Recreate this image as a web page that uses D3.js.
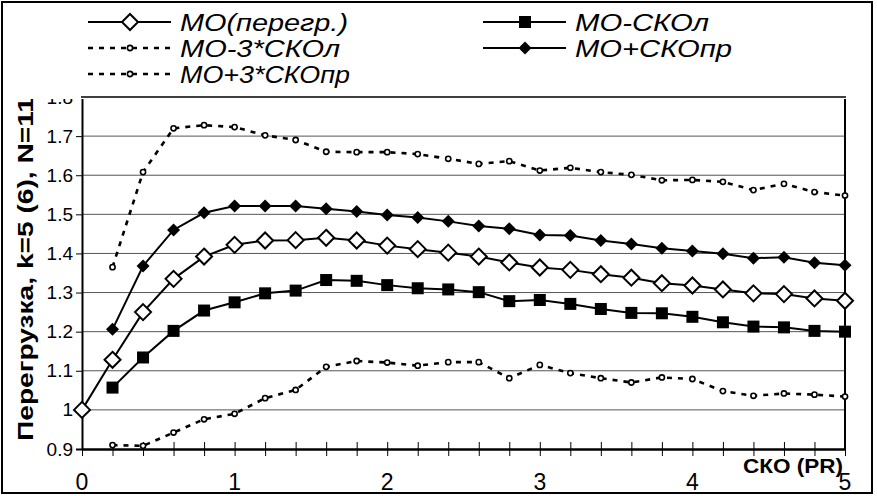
<!DOCTYPE html>
<html>
<head>
<meta charset="utf-8">
<script src="https://cdn.jsdelivr.net/npm/d3@7"></script>
<style>
  body { margin: 0; background: #fff; }
  text { font-family: "Liberation Sans", Arial, sans-serif; }
</style>
</head>
<body>
<div id="chart"></div>
<script>
// x values (СКО), step 0.2
const xAll = [0, 0.2, 0.4, 0.6, 0.8, 1, 1.2, 1.4, 1.6, 1.8, 2, 2.2, 2.4, 2.6, 2.8, 3, 3.2, 3.4, 3.6, 3.8, 4, 4.2, 4.4, 4.6, 4.8, 5];
const xFrom02 = xAll.slice(1);

const moVals = [1.000, 1.128, 1.250, 1.335, 1.392, 1.422, 1.433, 1.434, 1.440, 1.433, 1.420, 1.411, 1.402, 1.392, 1.377, 1.364, 1.358, 1.347, 1.338, 1.324, 1.318, 1.308, 1.298, 1.296, 1.285, 1.279];
const moMinusSko = [1.057, 1.134, 1.202, 1.254, 1.275, 1.298, 1.305, 1.332, 1.330, 1.319, 1.311, 1.308, 1.301, 1.278, 1.281, 1.271, 1.258, 1.248, 1.247, 1.238, 1.224, 1.213, 1.211, 1.202, 1.200];
const moPlusSko = [1.206, 1.368, 1.460, 1.504, 1.521, 1.521, 1.521, 1.514, 1.507, 1.498, 1.492, 1.482, 1.470, 1.463, 1.447, 1.446, 1.433, 1.424, 1.413, 1.406, 1.399, 1.388, 1.390, 1.376, 1.370];
const moMinus3 = [0.910, 0.908, 0.942, 0.976, 0.990, 1.030, 1.051, 1.110, 1.125, 1.121, 1.113, 1.122, 1.122, 1.081, 1.115, 1.094, 1.081, 1.070, 1.083, 1.079, 1.048, 1.036, 1.042, 1.039, 1.034];
const moPlus3 = [1.365, 1.608, 1.720, 1.728, 1.723, 1.702, 1.690, 1.660, 1.659, 1.659, 1.654, 1.642, 1.629, 1.636, 1.612, 1.619, 1.608, 1.601, 1.587, 1.588, 1.583, 1.562, 1.578, 1.557, 1.548];

const yTicks = [0.9, 1, 1.1, 1.2, 1.3, 1.4, 1.5, 1.6, 1.7, 1.8];
const xLabels = [0, 1, 2, 3, 4, 5];

const W = 877, H = 496;
const plot = { left: 82, right: 845, top: 97, bottom: 449 };

const svg = d3.select('#chart').append('svg')
    .attr('width', W).attr('height', H);

svg.append('rect').attr('width', W).attr('height', H).attr('fill', '#fff');

const x = d3.scaleLinear().domain([0, 5]).range([plot.left, plot.right]);
const y = d3.scaleLinear().domain([0.9, 1.8]).range([plot.bottom, plot.top]);

// gridlines
svg.append('g')
    .selectAll('line')
    .data(yTicks.slice(1))
    .enter().append('line')
    .attr('x1', plot.left).attr('x2', plot.right)
    .attr('y1', d => y(d)).attr('y2', d => y(d))
    .attr('stroke', '#555').attr('stroke-width', 1);

// right border
svg.append('line')
    .attr('x1', plot.right).attr('x2', plot.right)
    .attr('y1', plot.top).attr('y2', plot.bottom)
    .attr('stroke', '#000').attr('stroke-width', 2);

// y axis
const yAxis = svg.append('g')
    .attr('transform', `translate(${plot.left},0)`)
    .call(d3.axisLeft(y).tickValues(yTicks).tickSize(6).tickPadding(3)
        .tickFormat(d => d === 1 ? '1' : d3.format('.1f')(d)));
yAxis.select('.domain').attr('stroke-width', 2);
yAxis.selectAll('text').attr('font-size', 19).attr('font-family', '"Liberation Sans", Arial, sans-serif');

// x axis (crossing ticks every 0.2, labels on integers)
const xAxis = svg.append('g')
    .attr('transform', `translate(0,${plot.bottom})`)
    .call(d3.axisBottom(x).tickValues(xAll).tickSize(7).tickSizeOuter(0).tickFormat(''));
xAxis.select('.domain').attr('stroke-width', 2.5);
xAxis.selectAll('.tick line').attr('y1', -7).attr('stroke-width', 1);

svg.append('g').selectAll('text')
    .data(xLabels)
    .enter().append('text')
    .attr('x', d => x(d))
    .attr('y', 490)
    .attr('text-anchor', 'middle')
    .attr('font-size', 23)
    .text(d => d);

// series
const line = d3.line().x(d => x(d[0])).y(d => y(d[1]));
const zipped = (xs, vs) => xs.map((v, i) => [v, vs[i]]);

const series = [
    { name: 'МО(перегр.)', data: zipped(xAll, moVals), dash: null, marker: 'openDiamond' },
    { name: 'МО-СКОл', data: zipped(xFrom02, moMinusSko), dash: null, marker: 'square' },
    { name: 'МО-3*СКОл', data: zipped(xFrom02, moMinus3), dash: '5,6', marker: 'circle' },
    { name: 'МО+СКОпр', data: zipped(xFrom02, moPlusSko), dash: null, marker: 'filledDiamond' },
    { name: 'МО+3*СКОпр', data: zipped(xFrom02, moPlus3), dash: '5,6', marker: 'circle' }
];

function drawMarker(g, type, cx, cy) {
    if (type === 'openDiamond') {
        g.append('path').attr('d', `M${cx},${cy - 8}L${cx + 8},${cy}L${cx},${cy + 8}L${cx - 8},${cy}Z`)
            .attr('fill', '#fff').attr('stroke', '#000').attr('stroke-width', 2);
    } else if (type === 'filledDiamond') {
        g.append('path').attr('d', `M${cx},${cy - 6.5}L${cx + 6.5},${cy}L${cx},${cy + 6.5}L${cx - 6.5},${cy}Z`)
            .attr('fill', '#000');
    } else if (type === 'square') {
        g.append('rect').attr('x', cx - 6).attr('y', cy - 6).attr('width', 12).attr('height', 12)
            .attr('fill', '#000');
    } else {
        g.append('circle').attr('cx', cx).attr('cy', cy).attr('r', 2.6)
            .attr('fill', '#fff').attr('stroke', '#000').attr('stroke-width', 1.6);
    }
}

series.forEach(s => {
    const g = svg.append('g');
    g.append('path')
        .datum(s.data)
        .attr('fill', 'none')
        .attr('stroke', '#000')
        .attr('stroke-width', s.dash ? 2.6 : 2)
        .attr('stroke-dasharray', s.dash)
        .attr('d', line);
    s.data.forEach(d => drawMarker(g, s.marker, x(d[0]), y(d[1])));
});

// x axis title
svg.append('text')
    .attr('x', 743).attr('y', 473)
    .attr('font-size', 21).attr('font-weight', 'bold')
    .attr('textLength', 100).attr('lengthAdjust', 'spacingAndGlyphs')
    .text('СКО (PR)');

// y axis title
svg.append('text')
    .attr('transform', 'translate(33,441) rotate(-90)')
    .attr('font-size', 22).attr('font-weight', 'bold')
    .attr('textLength', 344).attr('lengthAdjust', 'spacingAndGlyphs')
    .text('Перегрузка, k=5 (6), N=11');

// legend box (covers the top of the plot area)
svg.append('rect')
    .attr('x', 3).attr('y', 3).attr('width', 868).attr('height', 96)
    .attr('fill', '#fff');

// plot top border, redrawn over the legend box edge
svg.append('line')
    .attr('x1', plot.left - 1).attr('x2', plot.right + 1)
    .attr('y1', plot.top).attr('y2', plot.top)
    .attr('stroke', '#000').attr('stroke-width', 1.5);

const legendItems = [
    { s: series[0], lx: 88, ly: 22, tl: 168 },
    { s: series[2], lx: 88, ly: 48, tl: 160 },
    { s: series[4], lx: 88, ly: 74, tl: 170 },
    { s: series[1], lx: 483, ly: 22, tl: 134 },
    { s: series[3], lx: 483, ly: 48, tl: 157 }
];

legendItems.forEach(it => {
    const g = svg.append('g');
    g.append('line')
        .attr('x1', it.lx).attr('x2', it.lx + 83)
        .attr('y1', it.ly).attr('y2', it.ly)
        .attr('stroke', '#000')
        .attr('stroke-width', it.s.dash ? 2.6 : 2)
        .attr('stroke-dasharray', it.s.dash);
    drawMarker(g, it.s.marker, it.lx + 42, it.ly);
    g.append('text')
        .attr('x', it.lx + 92).attr('y', it.ly + 9)
        .attr('font-size', 24).attr('font-style', 'italic')
        .attr('textLength', it.tl).attr('lengthAdjust', 'spacingAndGlyphs')
        .text(it.s.name);
});

// outer border
svg.append('rect')
    .attr('x', 2).attr('y', 2).attr('width', 870).attr('height', 491)
    .attr('fill', 'none').attr('stroke', '#000').attr('stroke-width', 2);
</script>
</body>
</html>
